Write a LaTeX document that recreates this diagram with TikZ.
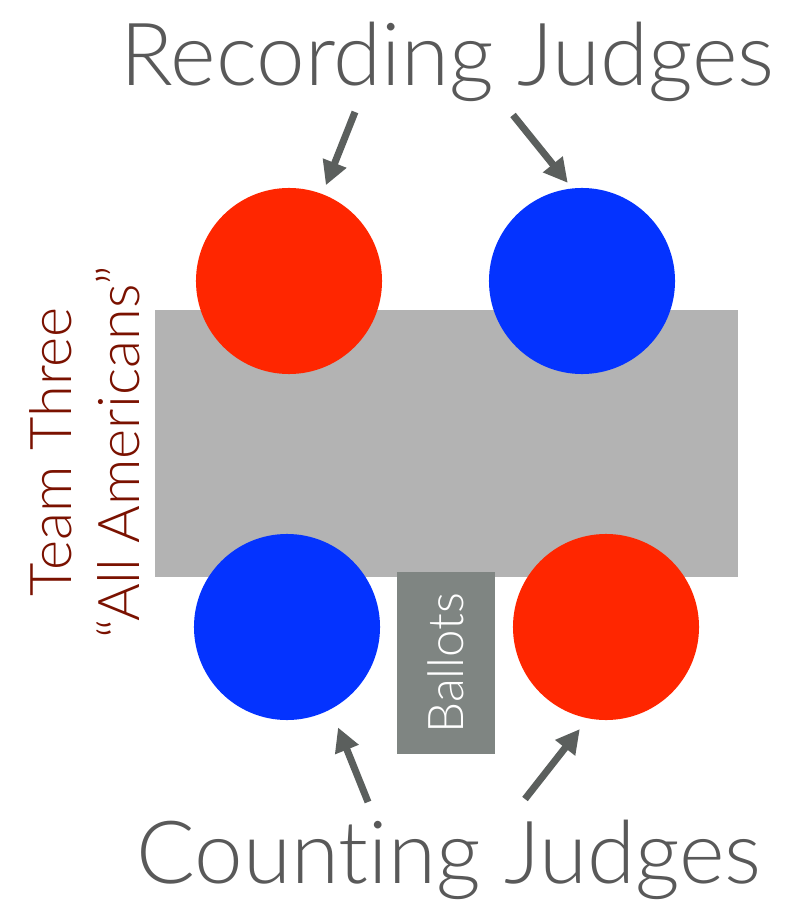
\documentclass[tikz,border=0pt]{standalone}
\usepackage{fontspec}
\setmainfont{Lato Light}[RawFeature=-liga]
\usepackage{xcolor}
\usepackage{tikz}
\usetikzlibrary{arrows.meta}
\definecolor{judgered}{RGB}{255,38,0}
\definecolor{judgeblue}{RGB}{4,51,255}
\definecolor{tablegray}{RGB}{179,179,179}
\definecolor{ballotgray}{RGB}{127,133,130}
\definecolor{labelgray}{RGB}{89,89,89}
\definecolor{arrowgray}{RGB}{91,95,93}
\definecolor{teamred}{RGB}{122,17,0}
\tikzset{
	judge/.style={
			circle, fill=#1, draw=none, minimum size=4.65cm,
			inner sep=0pt, outer sep=0pt
		},
	pointer/.style={
			-{Triangle[length=17pt, width=17pt]}, line width=5pt, arrowgray
		},
	bigtext/.style={
			labelgray, anchor=base, inner sep=0pt,
			font=\fontsize{62}{62}\selectfont
		}
}

\begin{document}
\begin{tikzpicture}[x=0.025cm, y=-0.025cm]
		\useasboundingbox (0, 0) rectangle (808, 905);

		% table and ballots
		\node[fill=tablegray, minimum width=14.575cm, minimum height=6.675cm, inner sep=0pt] (table) at (446.5, 443.5) {};
		\node[fill=ballotgray, rotate=90, minimum width=4.55cm, minimum height=2.425cm, inner sep=0pt,
			text=white, font=\fontsize{35}{35}\selectfont] (ballots) at (446, 663) {Ballots};

		% judges
		\node[judge=judgered]	(rec1) at (289, 281) {};
		\node[judge=judgeblue]	(rec2) at (582, 281) {};
		\node[judge=judgeblue]	(cnt1) at (287, 627) {};
		\node[judge=judgered]	(cnt2) at (606, 627) {};

		% labels
		\node[bigtext]	(rec) at (447.5, 86) {Recording Judges};
		\node[bigtext]	(cnt) at (449, 883) {Counting Judges};
		\node[rotate=90, teamred, align=center, inner sep=0pt,
			font=\fontsize{41}{48}\selectfont] (team) at (85, 452) {Team Three\\“All Americans”};

		% arrows
		\coordinate (t1) at (355, 112);
		\coordinate (t2) at (513, 115);
		\coordinate (t3) at (368, 802);
		\coordinate (t4) at (525, 799);
		\draw[pointer, shorten >=6.8pt]		(t1) -- (rec1.69.6);
		\draw[pointer, shorten >=5.1pt]		(t2) -- (rec2.96.5);
		\draw[pointer, shorten >=14pt]		(t3) -- (cnt1.-62.9);
		\draw[pointer, shorten >=9.7pt]		(t4) -- (cnt2.259);
	\end{tikzpicture}
\end{document}
